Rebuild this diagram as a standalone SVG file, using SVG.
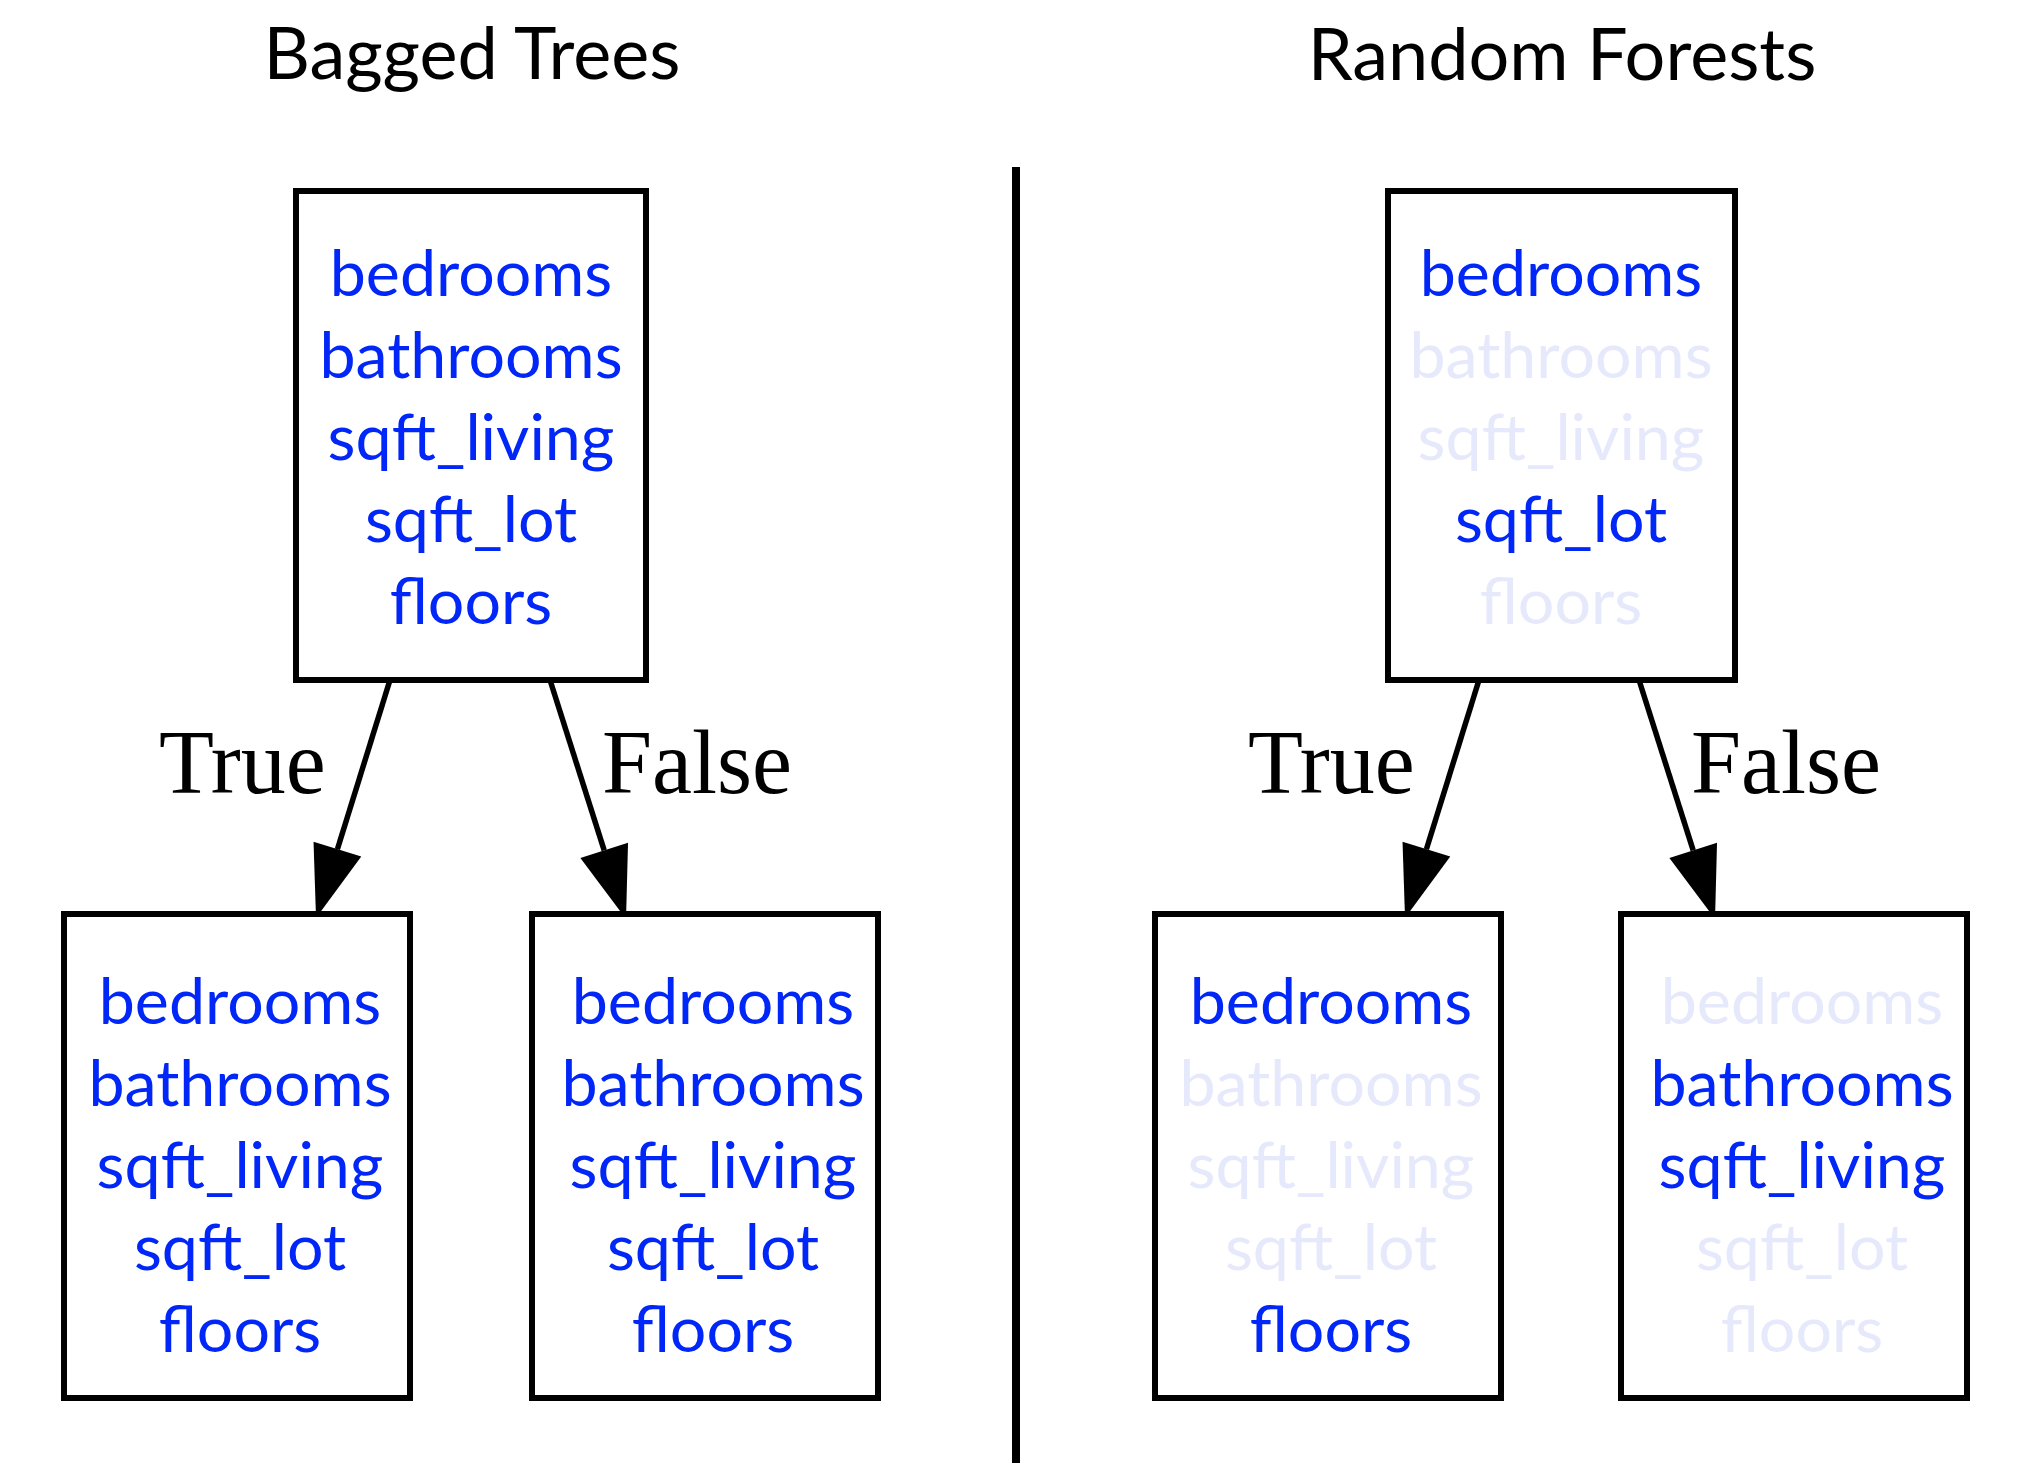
<svg xmlns="http://www.w3.org/2000/svg" width="2038" height="1484" viewBox="0 0 2038 1484">
<style>
.title{font-family:Lato,"Open Sans","DejaVu Sans",sans-serif;font-size:72px;fill:#000;text-anchor:middle}
.node rect{fill:#fff;stroke:#000;stroke-width:6}
.node text{font-family:Lato,"Open Sans","DejaVu Sans",sans-serif;font-size:64.5px;text-anchor:middle}
.on{fill:#0026f8}
.off{fill:#e6e9fb}
.edge{stroke:#000;stroke-width:5.5;fill:none;marker-end:url(#ah)}
.lbl{font-family:"Liberation Serif","Times New Roman",serif;font-size:90px;fill:#000}
</style>
<defs>
<marker id="ah" markerUnits="userSpaceOnUse" markerWidth="72" markerHeight="50" refX="0" refY="25" orient="auto" overflow="visible">
<path d="M0,0 L72,25 L0,50 Z" fill="#000"/>
</marker>
</defs>
<rect width="2038" height="1484" fill="#fff"/>
<text class="title" x="472" y="79">Bagged Trees</text>
<text class="title" x="1562" y="80">Random Forests</text>
<line x1="1016" y1="167" x2="1016" y2="1463" stroke="#000" stroke-width="8"/>

<g id="connectors">
<line class="edge" x1="390" y1="680" x2="337.4" y2="849.2"/>
<line class="edge" x1="550" y1="680" x2="604.2" y2="850.4"/>
<line class="edge" x1="1479" y1="680" x2="1426.4" y2="849.2"/>
<line class="edge" x1="1639" y1="680" x2="1693.2" y2="850.4"/>
<text class="lbl" x="159" y="793">True</text>
<text class="lbl" x="602" y="793">False</text>
<text class="lbl" x="1248" y="793">True</text>
<text class="lbl" x="1691" y="793">False</text>
</g>

<g id="bt_root" class="node">
<rect x="296" y="191" width="350" height="489"/>
<text class="on" x="471" y="296">bedrooms</text>
<text class="on" x="471" y="378">bathrooms</text>
<text class="on" x="471" y="460">sqft_living</text>
<text class="on" x="471" y="542">sqft_lot</text>
<text class="on" x="471" y="624">floors</text>
</g>
<g id="bt_true" class="node">
<rect x="64" y="914" width="346" height="484"/>
<text class="on" x="240" y="1024">bedrooms</text>
<text class="on" x="240" y="1106">bathrooms</text>
<text class="on" x="240" y="1188">sqft_living</text>
<text class="on" x="240" y="1270">sqft_lot</text>
<text class="on" x="240" y="1352">floors</text>
</g>
<g id="bt_false" class="node">
<rect x="532" y="914" width="346" height="484"/>
<text class="on" x="713" y="1024">bedrooms</text>
<text class="on" x="713" y="1106">bathrooms</text>
<text class="on" x="713" y="1188">sqft_living</text>
<text class="on" x="713" y="1270">sqft_lot</text>
<text class="on" x="713" y="1352">floors</text>
</g>
<g id="rf_root" class="node">
<rect x="1388" y="191" width="347" height="489"/>
<text class="on" x="1561" y="296">bedrooms</text>
<text class="off" x="1561" y="378">bathrooms</text>
<text class="off" x="1561" y="460">sqft_living</text>
<text class="on" x="1561" y="542">sqft_lot</text>
<text class="off" x="1561" y="624">floors</text>
</g>
<g id="rf_true" class="node">
<rect x="1155" y="914" width="346" height="484"/>
<text class="on" x="1331" y="1024">bedrooms</text>
<text class="off" x="1331" y="1106">bathrooms</text>
<text class="off" x="1331" y="1188">sqft_living</text>
<text class="off" x="1331" y="1270">sqft_lot</text>
<text class="on" x="1331" y="1352">floors</text>
</g>
<g id="rf_false" class="node">
<rect x="1621" y="914" width="346" height="484"/>
<text class="off" x="1802" y="1024">bedrooms</text>
<text class="on" x="1802" y="1106">bathrooms</text>
<text class="on" x="1802" y="1188">sqft_living</text>
<text class="off" x="1802" y="1270">sqft_lot</text>
<text class="off" x="1802" y="1352">floors</text>
</g>
</svg>
